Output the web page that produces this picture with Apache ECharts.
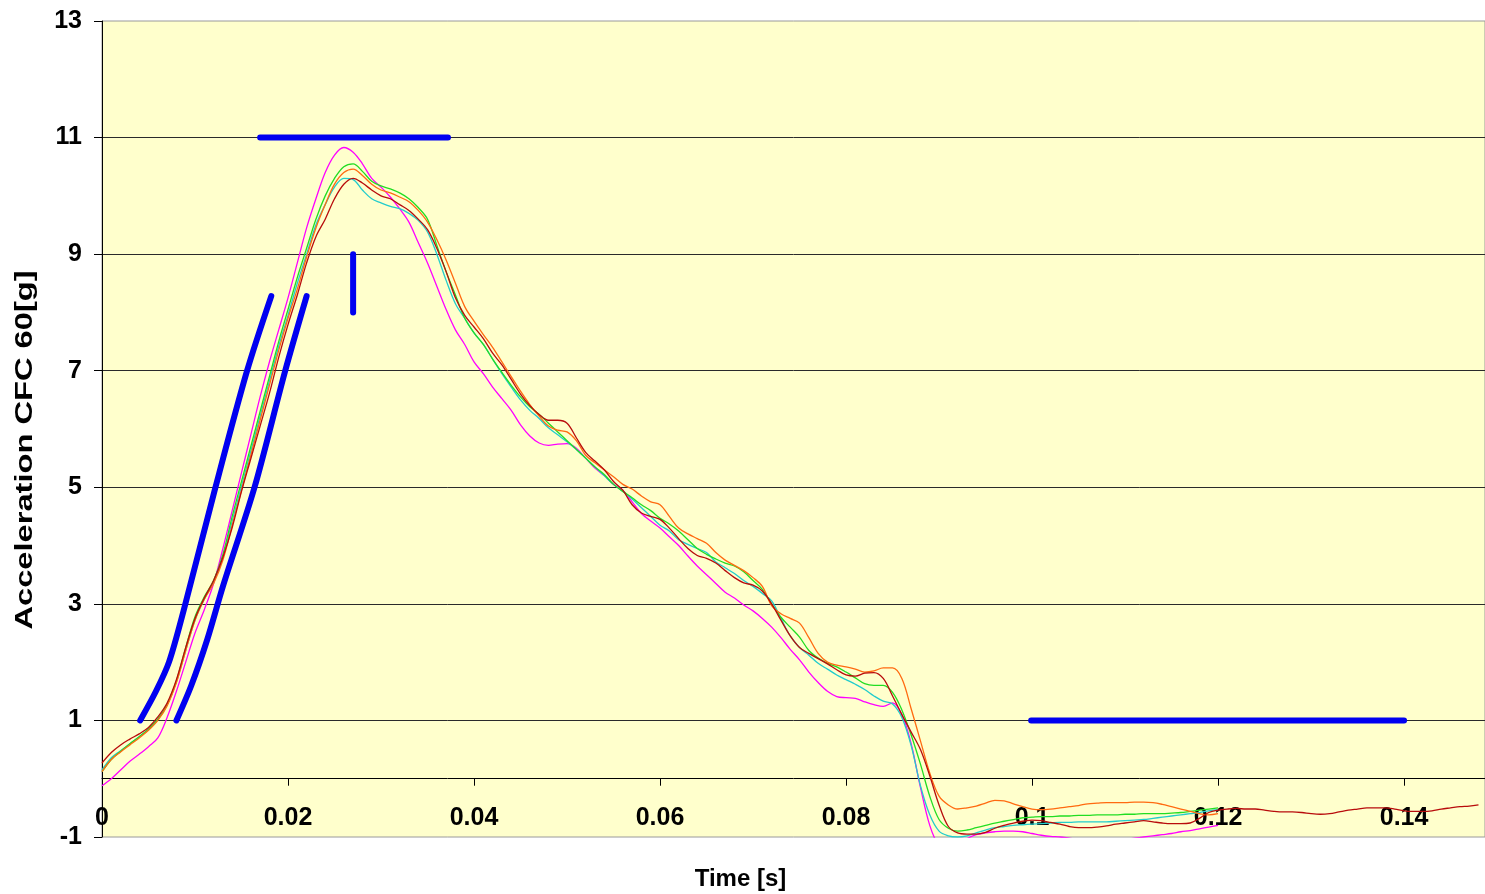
<!DOCTYPE html>
<html>
<head>
<meta charset="utf-8">
<title>Acceleration CFC 60</title>
<script src="https://cdn.jsdelivr.net/npm/echarts@6/dist/echarts.min.js"></script>
<style>
  html, body { margin: 0; padding: 0; background: #fff; }
  #chart { width: 1485px; height: 894px; }
</style>
</head>
<body>
<div id="chart"></div>
<script>
// Sampling interval of the acceleration traces, in seconds.
const sampleStep = 0.001;

// Axis ranges and tick spacing.
const timeMax = 0.1487;
const timeTick = 0.02;
const accMin = -1;
const accMax = 13;
const accTick = 2;

// Axis titles.
const timeTitle = 'Time [s]';
const accTitle = 'Acceleration CFC 60[g]';

// Five test traces, one value per sample (g).
const traceMagenta = [-0.12,0.00,0.15,0.30,0.42,0.55,0.70,1.05,1.50,2.00,
  2.50,2.90,3.35,3.95,4.60,5.25,5.90,6.55,7.15,7.70,
  8.25,8.85,9.45,9.95,10.40,10.70,10.83,10.75,10.55,10.30,
  10.15,9.98,9.78,9.55,9.20,8.85,8.45,8.05,7.70,7.45,
  7.15,6.95,6.72,6.52,6.32,6.07,5.88,5.76,5.72,5.74,
  5.75,5.67,5.50,5.33,5.20,5.05,4.95,4.75,4.55,4.42,
  4.30,4.15,4.00,3.82,3.65,3.50,3.35,3.20,3.10,2.98,
  2.88,2.75,2.60,2.42,2.22,2.04,1.83,1.65,1.50,1.41,
  1.39,1.38,1.32,1.27,1.24,1.30,1.10,0.60,-0.15,-0.80,
  -1.15,-1.20,-1.15,-1.03,-0.96,-0.93,-0.91,-0.90,-0.90,-0.91,
  -0.94,-0.97,-0.99,-1.00,-1.02,-1.04,-1.05,-1.06,-1.06,-1.05,
  -1.04,-1.02,-1.00,-0.98,-0.96,-0.94,-0.91,-0.89,-0.86,-0.83,
  -0.80];

const traceCyan = [0.15,0.36,0.48,0.60,0.72,0.85,1.02,1.27,1.66,2.20,
  2.72,3.08,3.38,3.80,4.42,5.02,5.62,6.22,6.82,7.42,
  7.95,8.50,9.00,9.50,9.85,10.15,10.30,10.28,10.10,9.95,
  9.88,9.82,9.78,9.70,9.58,9.38,9.00,8.55,8.15,7.90,
  7.65,7.45,7.20,6.95,6.72,6.50,6.32,6.18,6.02,5.90,
  5.78,5.65,5.50,5.35,5.20,5.05,4.93,4.80,4.65,4.50,
  4.35,4.25,4.10,4.02,3.95,3.88,3.72,3.62,3.52,3.40,
  3.30,3.18,3.05,2.75,2.45,2.25,2.12,1.98,1.88,1.78,
  1.70,1.62,1.53,1.42,1.33,1.28,1.05,0.57,-0.12,-0.62,
  -0.90,-0.98,-1.00,-0.98,-0.93,-0.88,-0.84,-0.82,-0.80,-0.79,
  -0.78,-0.77,-0.76,-0.75,-0.75,-0.74,-0.74,-0.74,-0.74,-0.73,
  -0.72,-0.71,-0.70,-0.68,-0.66,-0.64,-0.62,-0.60,-0.58,-0.55,
  -0.53];

const traceGreen = [0.12,0.33,0.47,0.60,0.72,0.85,1.02,1.27,1.68,2.25,
  2.78,3.12,3.40,3.85,4.50,5.10,5.70,6.30,6.90,7.50,
  8.05,8.60,9.10,9.60,10.00,10.30,10.50,10.55,10.42,10.25,
  10.17,10.12,10.05,9.95,9.80,9.60,9.15,8.70,8.30,7.90,
  7.65,7.45,7.20,6.97,6.75,6.55,6.38,6.25,6.10,5.95,
  5.80,5.65,5.50,5.35,5.22,5.05,4.93,4.82,4.70,4.60,
  4.47,4.37,4.25,4.10,3.95,3.85,3.77,3.70,3.65,3.55,
  3.40,3.25,3.00,2.77,2.60,2.43,2.20,2.07,1.98,1.92,
  1.83,1.73,1.63,1.60,1.60,1.48,1.18,0.75,0.25,-0.30,
  -0.70,-0.85,-0.90,-0.88,-0.84,-0.80,-0.76,-0.73,-0.70,-0.67,
  -0.66,-0.65,-0.65,-0.64,-0.64,-0.63,-0.63,-0.62,-0.62,-0.62,
  -0.61,-0.61,-0.60,-0.60,-0.60,-0.59,-0.58,-0.56,-0.54,-0.52,
  -0.50];

const traceOrange = [0.12,0.33,0.46,0.58,0.70,0.83,1.00,1.25,1.65,2.20,
  2.72,3.08,3.35,3.75,4.35,4.95,5.55,6.15,6.75,7.35,
  7.90,8.40,8.95,9.45,9.85,10.20,10.40,10.46,10.35,10.20,
  10.10,10.05,9.98,9.90,9.75,9.55,9.25,8.90,8.50,8.10,
  7.85,7.62,7.40,7.15,6.90,6.65,6.42,6.22,6.05,5.98,
  5.95,5.80,5.55,5.42,5.30,5.18,5.05,4.97,4.85,4.75,
  4.70,4.50,4.30,4.20,4.12,4.04,3.88,3.75,3.66,3.57,
  3.45,3.30,2.97,2.83,2.75,2.67,2.42,2.15,2.00,1.95,
  1.92,1.88,1.83,1.85,1.90,1.90,1.72,1.20,0.65,0.10,
  -0.30,-0.45,-0.52,-0.50,-0.47,-0.42,-0.37,-0.38,-0.43,-0.48,
  -0.52,-0.53,-0.52,-0.50,-0.48,-0.46,-0.43,-0.42,-0.41,-0.41,
  -0.41,-0.40,-0.40,-0.41,-0.44,-0.48,-0.52,-0.56,-0.60,-0.62,
  -0.60];

const traceRed = [0.27,0.45,0.58,0.68,0.77,0.88,1.06,1.30,1.70,2.25,
  2.75,3.10,3.40,3.80,4.31,4.93,5.49,6.05,6.61,7.23,
  7.79,8.30,8.85,9.30,9.60,9.95,10.20,10.30,10.22,10.10,
  10.00,9.95,9.85,9.75,9.60,9.42,9.10,8.70,8.25,7.95,
  7.75,7.55,7.30,7.10,6.85,6.60,6.40,6.25,6.15,6.15,
  6.10,5.85,5.60,5.45,5.30,5.10,4.95,4.70,4.56,4.50,
  4.45,4.30,4.12,3.95,3.83,3.78,3.70,3.57,3.45,3.36,
  3.32,3.22,3.00,2.72,2.45,2.25,2.15,2.06,1.97,1.87,
  1.78,1.76,1.81,1.82,1.72,1.42,1.10,0.80,0.50,0.05,
  -0.45,-0.82,-0.93,-0.95,-0.95,-0.92,-0.85,-0.80,-0.76,-0.73,
  -0.71,-0.72,-0.75,-0.78,-0.82,-0.84,-0.84,-0.83,-0.81,-0.78,
  -0.76,-0.74,-0.72,-0.74,-0.76,-0.77,-0.77,-0.76,-0.68,-0.58,
  -0.54,-0.52,-0.51,-0.52,-0.52,-0.54,-0.56,-0.57,-0.57,-0.58,
  -0.60,-0.61,-0.60,-0.57,-0.54,-0.52,-0.50,-0.50,-0.50,-0.52,
  -0.55,-0.56,-0.56,-0.55,-0.52,-0.50,-0.48,-0.47,-0.45];

// Corridor limits, as [time s, acceleration g] points.
const corridorRiseEarly = [[0.0041,1.0],[0.0058,1.5],[0.0072,2.0],[0.0088,2.9],[0.0122,5.0],[0.0156,7.0],[0.0182,8.28]];
const corridorRiseLate  = [[0.0080,1.0],[0.0096,1.6],[0.0113,2.38],[0.0130,3.3],[0.0164,5.0],[0.0197,7.0],[0.0220,8.28]];
const corridorPeak      = [[0.0170,11.0],[0.0372,11.0]];
const corridorPeakTime  = [[0.0270,8.0],[0.0270,9.0]];
const corridorTail      = [[0.0999,1.0],[0.1400,1.0]];

const FONT = '"Liberation Sans", Arial, sans-serif';

// Plot box, in pixels.
const GRID = { left: 102, right: 0, top: 21, bottom: 57 };
const CHART_H = 894;

function toPoints(values) {
  return values.map((v, i) => [+(i * sampleStep).toFixed(4), v]);
}

function trace(values, color) {
  return {
    type: 'line',
    data: toPoints(values),
    smooth: 0.35,
    showSymbol: false,
    symbol: 'none',
    clip: true,
    lineStyle: { color: color, width: 1.3 },
    z: 3
  };
}

function corridor(points, smooth) {
  return {
    type: 'line',
    data: points,
    smooth: smooth ? 0.3 : false,
    showSymbol: false,
    symbol: 'none',
    lineStyle: { color: '#0000f0', width: 6, cap: 'round', join: 'round' },
    z: 5
  };
}

// The time axis crosses the acceleration axis at 0 g: shift it up from the
// bottom of the plot by the height of the band below zero.
const plotH = CHART_H - GRID.top - GRID.bottom;
const zeroShift = plotH * (0 - accMin) / (accMax - accMin);

const chart = echarts.init(document.getElementById('chart'), null, { renderer: 'canvas' });

chart.setOption({
  animation: false,
  backgroundColor: '#ffffff',
  grid: {
    left: GRID.left, right: GRID.right, top: GRID.top, bottom: GRID.bottom,
    outerBoundsMode: 'none',
    containLabel: false,
    show: true,
    backgroundColor: '#ffffcc',
    borderColor: '#9a9a9a',
    borderWidth: 1
  },
  // The vertical title is drawn stretched along its length.
  graphic: [{
    type: 'text',
    x: 25,
    y: 450,
    rotation: Math.PI / 2,
    scaleX: 1.36,
    style: {
      text: accTitle,
      font: 'bold 24px ' + FONT,
      fill: '#000',
      align: 'center',
      verticalAlign: 'middle'
    }
  }],
  xAxis: {
    type: 'value',
    min: 0,
    max: timeMax,
    interval: timeTick,
    offset: -zeroShift,
    name: timeTitle,
    nameLocation: 'middle',
    nameGap: 89,
    nameMoveOverlap: false,
    nameTextStyle: { fontFamily: FONT, fontWeight: 'bold', fontSize: 24, color: '#000', padding: [0, 106, 0, 0] },
    axisLine: { show: true, onZero: false, lineStyle: { color: '#000', width: 1 } },
    axisTick: { show: true, length: 7, lineStyle: { color: '#000', width: 1 } },
    axisLabel: { margin: 27, showMaxLabel: false, fontFamily: FONT, fontWeight: 'bold', fontSize: 25, color: '#000' },
    splitLine: { show: false }
  },
  yAxis: {
    type: 'value',
    min: accMin,
    max: accMax,
    interval: accTick,
    axisLine: { show: true, onZero: false, lineStyle: { color: '#000', width: 1 } },
    axisTick: { show: true, length: 8, lineStyle: { color: '#000', width: 1 } },
    axisLabel: { margin: 20, fontFamily: FONT, fontWeight: 'bold', fontSize: 25, color: '#000' },
    splitLine: { show: true, showMinLine: false, showMaxLine: false, lineStyle: { color: '#2a2a2a', width: 1 } }
  },
  series: [
    trace(traceMagenta, '#ff00ff'),
    trace(traceCyan, '#22cccc'),
    trace(traceGreen, '#22dd22'),
    trace(traceOrange, '#ff6a10'),
    trace(traceRed, '#b80c0c'),
    corridor(corridorRiseEarly, true),
    corridor(corridorRiseLate, true),
    corridor(corridorPeak, false),
    corridor(corridorPeakTime, false),
    corridor(corridorTail, false)
  ]
});
</script>
</body>
</html>
